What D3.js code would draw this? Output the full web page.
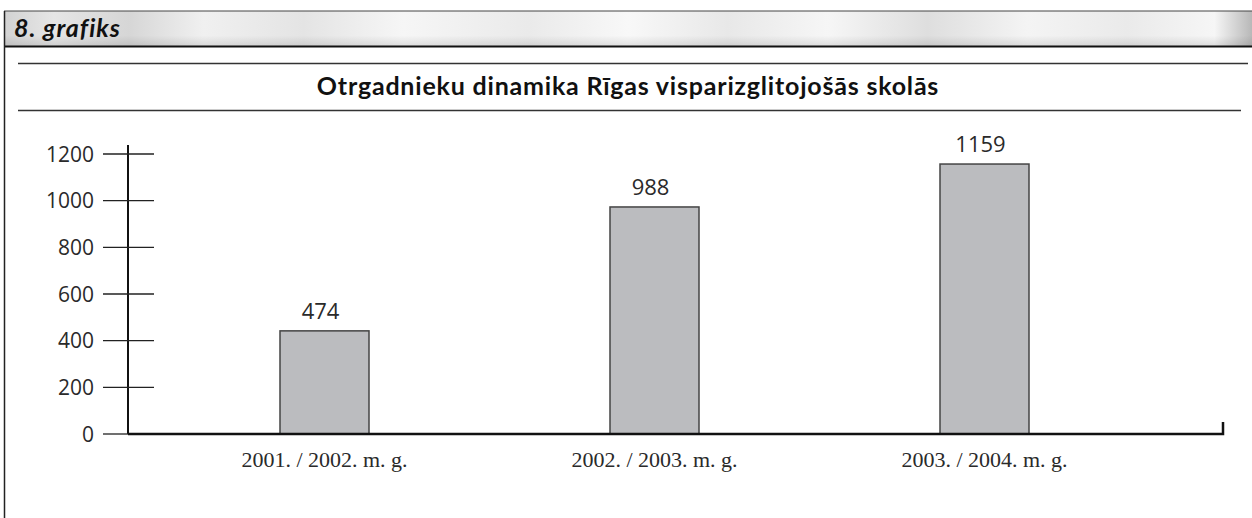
<!DOCTYPE html>
<html>
<head>
<meta charset="utf-8">
<script src="https://cdn.jsdelivr.net/npm/d3@7"></script>
<style>
  body { margin: 0; background: #fff; }
  svg { display: block; }
</style>
</head>
<body>
<div id="chart"></div>
<script>
// data
const categories = ["2001. / 2002. m. g.", "2002. / 2003. m. g.", "2003. / 2004. m. g."];
const labels = [474, 988, 1159];          // printed values
const barHeights = [442, 973, 1157];      // as the bars are actually drawn
const yTicks = [0, 200, 400, 600, 800, 1000, 1200];

const width = 1252;
const height = 518;

const X0 = 128;       // y axis position
const BASE_Y = 434;   // zero line
const TOP_Y = 154;    // 1200 line
const BAR_W = 89;

const svg = d3.select("#chart")
  .append("svg")
  .attr("width", width)
  .attr("height", height);

// ---- header band ----
const defs = svg.append("defs");
const grad = defs.append("linearGradient").attr("id", "band");
[[0, "#d2d2d2"], [0.04, "#e6e6e6"], [0.1, "#d6d6d6"], [0.16, "#f0f0f0"], [0.24, "#e4e4e4"],
 [0.32, "#f6f6f6"], [0.42, "#eaeaea"], [0.5, "#f8f8f8"], [0.58, "#e8e8e8"], [0.66, "#f6f6f6"],
 [0.74, "#dedede"], [0.82, "#f4f4f4"], [0.9, "#eaeaea"], [0.97, "#f6f6f6"], [1, "#b8b8b8"]]
  .forEach(s => grad.append("stop").attr("offset", s[0]).attr("stop-color", s[1]));

const shade = defs.append("linearGradient").attr("id", "shade")
  .attr("x1", 0).attr("x2", 0).attr("y1", 0).attr("y2", 1);
[[0, "#000", 0], [0.7, "#000", 0], [1, "#000", 0.1]]
  .forEach(s => shade.append("stop").attr("offset", s[0]).attr("stop-color", s[1]).attr("stop-opacity", s[2]));

svg.append("rect")
  .attr("x", 4).attr("y", 11)
  .attr("width", width - 4).attr("height", 35)
  .attr("fill", "url(#band)");
svg.append("rect")
  .attr("x", 4).attr("y", 11)
  .attr("width", width - 4).attr("height", 35)
  .attr("fill", "url(#shade)");

svg.append("line") // top of band
  .attr("x1", 4).attr("x2", width).attr("y1", 11).attr("y2", 11)
  .attr("stroke", "#444").attr("stroke-width", 1);

svg.append("line") // bottom of band
  .attr("x1", 4).attr("x2", width).attr("y1", 46.5).attr("y2", 46.5)
  .attr("stroke", "#111").attr("stroke-width", 2);

svg.append("line") // left frame
  .attr("x1", 4.5).attr("x2", 4.5).attr("y1", 11).attr("y2", height)
  .attr("stroke", "#222").attr("stroke-width", 1.5);

svg.append("text")
  .attr("x", 14).attr("y", 37)
  .style("font-family", "Lato, 'Open Sans', sans-serif")
  .style("font-weight", "bold")
  .style("font-style", "italic")
  .style("font-size", "25px")
  .style("letter-spacing", "1px")
  .style("fill", "#111")
  .text("8. grafiks");

// ---- title ----
svg.append("line")
  .attr("x1", 18).attr("x2", 1248).attr("y1", 63.5).attr("y2", 63.5)
  .attr("stroke", "#333").attr("stroke-width", 1.5);
svg.append("line")
  .attr("x1", 18).attr("x2", 1241).attr("y1", 110.5).attr("y2", 110.5)
  .attr("stroke", "#333").attr("stroke-width", 1.5);

svg.append("text")
  .attr("x", 628).attr("y", 95)
  .attr("text-anchor", "middle")
  .style("font-family", "Lato, 'Open Sans', sans-serif")
  .style("font-weight", "bold")
  .style("font-size", "25px")
  .style("letter-spacing", "0.8px")
  .style("fill", "#111")
  .text("Otrgadnieku dinamika Rīgas visparizglitojošās skolās");

// ---- scales ----
const y = d3.scaleLinear().domain([0, 1200]).range([BASE_Y, TOP_Y]);
const x = d3.scalePoint().domain(categories).range([324.5, 984.5]);

// ---- y axis ----
svg.append("line")
  .attr("x1", X0).attr("x2", X0).attr("y1", 145).attr("y2", BASE_Y)
  .attr("stroke", "#111").attr("stroke-width", 2);

const tickG = svg.append("g")
  .selectAll("g.tick")
  .data(yTicks)
  .enter()
  .append("g")
  .attr("transform", d => `translate(0,${y(d)})`);

tickG.append("line")
  .attr("x1", 103).attr("x2", d => d === 0 ? X0 : 154)
  .attr("stroke", "#222").attr("stroke-width", 1.3);

tickG.append("text")
  .attr("x", 94)
  .attr("dy", "0.36em")
  .attr("text-anchor", "end")
  .style("font-family", "'Open Sans', sans-serif")
  .style("font-size", "21px")
  .style("fill", "#2a2a2a")
  .text(d => d);

// ---- bars ----
svg.append("g")
  .selectAll("rect")
  .data(categories)
  .enter()
  .append("rect")
  .attr("x", d => x(d) - BAR_W / 2)
  .attr("y", (d, i) => y(barHeights[i]))
  .attr("width", BAR_W)
  .attr("height", (d, i) => BASE_Y - y(barHeights[i]))
  .attr("fill", "#bbbcbf")
  .attr("stroke", "#444")
  .attr("stroke-width", 1.5);

// value labels
svg.append("g")
  .selectAll("text")
  .data(categories)
  .enter()
  .append("text")
  .attr("x", d => x(d) - 4)
  .attr("y", (d, i) => y(barHeights[i]) - 12)
  .attr("text-anchor", "middle")
  .style("font-family", "'Open Sans', sans-serif")
  .style("font-size", "22px")
  .style("fill", "#2a2a2a")
  .text((d, i) => labels[i]);

// ---- baseline ----
svg.append("path")
  .attr("d", `M${X0},${BASE_Y}H1223V422`)
  .attr("fill", "none")
  .attr("stroke", "#111")
  .attr("stroke-width", 2.5);

// category labels
svg.append("g")
  .selectAll("text")
  .data(categories)
  .enter()
  .append("text")
  .attr("x", d => x(d))
  .attr("y", 467)
  .attr("text-anchor", "middle")
  .style("font-family", "'Liberation Serif', serif")
  .style("font-size", "22px")
  .style("fill", "#2a2a2a")
  .text(d => d);
</script>
</body>
</html>
